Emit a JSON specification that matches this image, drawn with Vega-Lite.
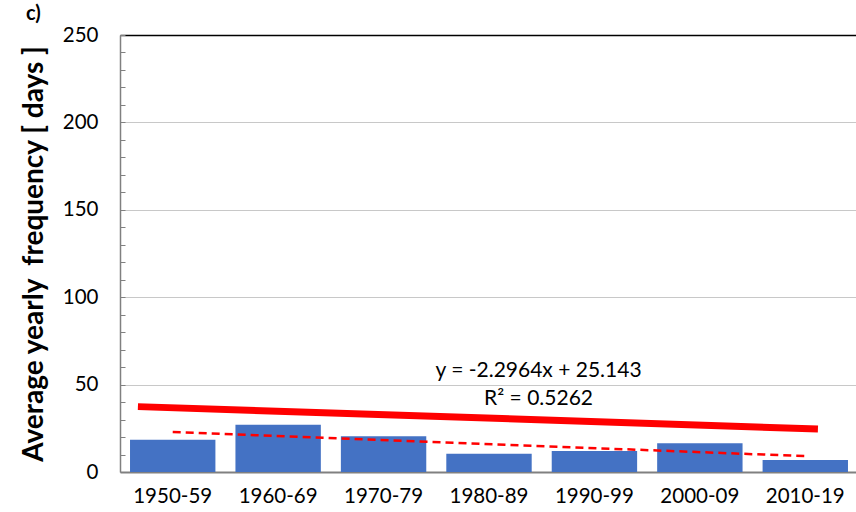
{
  "$schema": "https://vega.github.io/schema/vega-lite/v6.json",
  "width": 738,
  "height": 437,
  "autosize": {"type": "none"},
  "padding": {"left": 120, "top": 35, "right": 0, "bottom": 40},
  "background": "white",
  "config": {"font": "Lato", "view": {"stroke": null}},
  "title": {
    "text": "c)",
    "anchor": "start",
    "frame": "group",
    "dx": -94,
    "offset": 1,
    "fontSize": 20,
    "fontWeight": "bold",
    "color": "#000000"
  },
  "datasets": {
    "decades": [
      {"decade": "1950-59", "days": 18.4},
      {"decade": "1960-69", "days": 27.1},
      {"decade": "1970-79", "days": 20.4},
      {"decade": "1980-89", "days": 10.5},
      {"decade": "1990-99", "days": 12.0},
      {"decade": "2000-09", "days": 16.4},
      {"decade": "2010-19", "days": 6.9}
    ],
    "fit": [
      {"period": 1, "days": 22.85},
      {"period": 7, "days": 9.07}
    ],
    "envelope": [
      {"period": 0.67, "days": 37.4},
      {"period": 7.12, "days": 24.6}
    ],
    "notes": [
      {"period": 4.47, "days": 54.3, "label": "y = -2.2964x + 25.143"},
      {"period": 4.47, "days": 38.3, "label": "R² = 0.5262"}
    ]
  },
  "layer": [
    {
      "data": {"name": "decades"},
      "mark": {"type": "bar", "color": "#4472C4"},
      "encoding": {
        "x": {
          "field": "decade",
          "type": "nominal",
          "sort": null,
          "scale": {"paddingInner": 0.19, "paddingOuter": 0.095},
          "axis": {
            "title": null,
            "labelAngle": 0,
            "labelFontSize": 20.5,
            "labelColor": "#000000",
            "labelPadding": 14,
            "ticks": false,
            "domainColor": "#808080",
            "domainWidth": 2
          }
        },
        "y": {
          "field": "days",
          "type": "quantitative",
          "scale": {"domain": [0, 250], "nice": false},
          "axis": {
            "title": "Average yearly\u00a0 frequency [ days ]",
            "titleFontSize": 28,
            "titleFontWeight": "bold",
            "titleColor": "#000000",
            "titlePadding": 14,
            "values": [0, 10, 20, 30, 40, 50, 60, 70, 80, 90, 100, 110, 120, 130, 140, 150, 160, 170, 180, 190, 200, 210, 220, 230, 240, 250],
            "tickCount": 40,
            "labelExpr": "datum.value % 50 === 0 ? datum.label : ''",
            "labelOverlap": false,
            "labelFontSize": 20.5,
            "labelColor": "#000000",
            "labelPadding": 27,
            "tickSize": -5,
            "tickColor": "#808080",
            "domainColor": "#808080",
            "domainWidth": 1.5,
            "grid": true,
            "gridColor": {"condition": {"test": "datum.value === 250", "value": "#000000"}, "value": "#C8C8C8"},
            "gridWidth": {"condition": {"test": "datum.value === 250", "value": 1.5}, "value": 1},
            "gridOpacity": {"condition": {"test": "datum.value % 50 === 0 && datum.value > 0", "value": 1}, "value": 0}
          }
        }
      }
    },
    {
      "data": {"name": "envelope"},
      "mark": {"type": "line", "color": "#FF0000", "strokeWidth": 7, "strokeCap": "butt"},
      "encoding": {
        "x": {"field": "period", "type": "quantitative", "scale": {"domain": [0.5, 7.5], "nice": false, "zero": false}, "axis": null},
        "y": {"field": "days", "type": "quantitative"}
      }
    },
    {
      "data": {"name": "fit"},
      "mark": {"type": "line", "color": "#FF0000", "strokeWidth": 2.5, "strokeDash": [8, 5]},
      "encoding": {
        "x": {"field": "period", "type": "quantitative", "scale": {"domain": [0.5, 7.5], "nice": false, "zero": false}, "axis": null},
        "y": {"field": "days", "type": "quantitative"}
      }
    },
    {
      "data": {"name": "notes"},
      "mark": {"type": "text", "fontSize": 21, "align": "center", "baseline": "alphabetic", "color": "#000000"},
      "encoding": {
        "x": {"field": "period", "type": "quantitative", "scale": {"domain": [0.5, 7.5], "nice": false, "zero": false}, "axis": null},
        "y": {"field": "days", "type": "quantitative"},
        "text": {"field": "label", "type": "nominal"}
      }
    }
  ],
  "resolve": {"scale": {"x": "independent"}}
}
